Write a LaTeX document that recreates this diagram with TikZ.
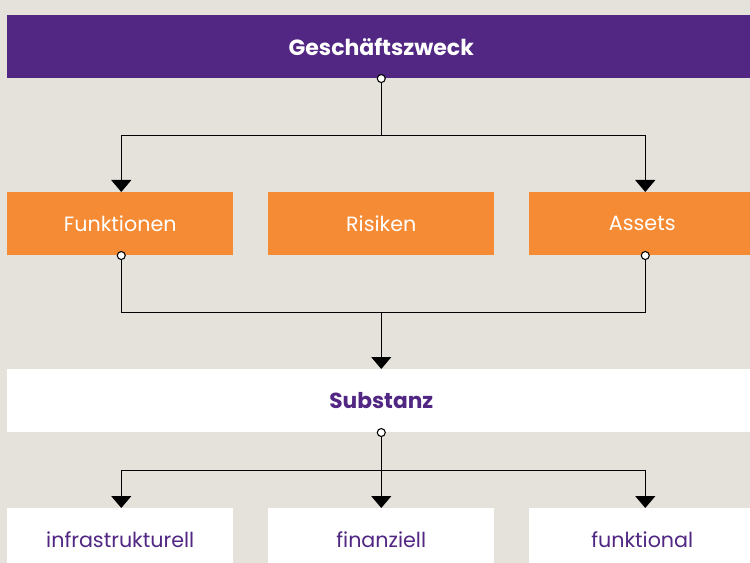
\documentclass[tikz,border=0pt]{standalone}
\usepackage{fontspec}
\setmainfont{Poppins}
\usetikzlibrary{arrows.meta,positioning,calc}
\definecolor{bgc}{HTML}{E5E1DB}
\definecolor{purp}{HTML}{512783}
\definecolor{orng}{HTML}{F68B35}
\tikzset{
  box/.style={draw=none,minimum height=47.25pt,inner sep=0pt,anchor=north west},
  wide/.style={minimum width=561pt},
  narrow/.style={minimum width=169.5pt},
  headbox/.style={box,fill=purp,text=white,font=\fontsize{16.5}{18}\selectfont\bfseries},
  orbox/.style={box,fill=orng,text=white,font=\fontsize{15.5}{18}\selectfont},
  subbox/.style={box,fill=white,text=purp,font=\fontsize{16.3}{18}\selectfont\bfseries},
  leafbox/.style={box,fill=white,text=purp,font=\fontsize{15.5}{18}\selectfont},
  conn/.style={line width=1pt,black},
  arr/.style={conn,-{Triangle[width=15pt,length=9pt]}},
  dot/.style={circle,draw=black,fill=white,line width=0.8pt,inner sep=0pt,minimum size=6pt}
}
\begin{document}
\begin{tikzpicture}[x=0.75pt,y=-0.75pt]
\clip (0,0) rectangle (750,563);
\fill[bgc] (0,0) rectangle (750,563);
\node[headbox,wide] (top) at (7,15) {Geschäftszweck};
\node[orbox,narrow] (fun) at (7,192) {Funktionen};
\node[orbox,narrow] (ris) at (268,192) {Risiken};
\node[orbox,narrow] (ass) at (529,192) {Assets};
\node[subbox,wide] (sub) at (7,369) {Substanz};
\node[leafbox,narrow] (inf) at (7,508) {infrastrukturell};
\node[leafbox,narrow] (fin) at (268,508) {finanziell};
\node[leafbox,narrow] (fkt) at (529,508) {funktional};
% top -> funktionen, assets
\draw[arr] (top.south) -- ++(0,57) -| ($(fun.north)+(1,0)$);
\draw[arr] (top.south) -- ++(0,57) -| ($(ass.north)+(3,0)$);
\node[dot] at (top.south) {};
% funktionen, assets -> substanz
\draw[conn] ($(fun.south)+(1,0)$) -- ++(0,57) -| ($(ass.south)+(3,0)$);
\coordinate (j2) at ($(sub.north)+(0,-57)$);
\draw[arr] (j2) -- (sub.north);
\node[dot] at ($(fun.south)+(1,0)$) {};
\node[dot] at ($(ass.south)+(3,0)$) {};
% substanz -> leaves
\draw[arr] (sub.south) -- ++(0,38) -| ($(inf.north)+(1,0)$);
\draw[arr] (sub.south) -- ++(0,38) -| ($(fkt.north)+(3,0)$);
\draw[arr] (sub.south) -- (fin.north);
\node[dot] at (sub.south) {};
\end{tikzpicture}
\end{document}
